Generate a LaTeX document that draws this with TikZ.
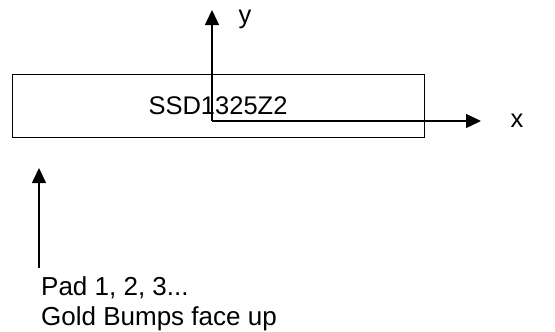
\documentclass[tikz,border=0pt]{standalone}
\usepackage{fontspec}
\setmainfont{Liberation Sans}
\usetikzlibrary{arrows.meta}
\tikzset{
    chip/.style={draw, line width=1pt, minimum width=412pt, minimum height=63pt, inner sep=0pt},
    axis/.style={line width=1.4pt, -{Triangle[length=15pt,width=14pt]}},
    lbl/.style={inner sep=0pt, font=\fontsize{25.5}{30}\selectfont}
}
\begin{document}
\begin{tikzpicture}[x=1pt, y=-1pt]
    \useasboundingbox (0, 0) rectangle (555, 332);
    \node[chip, lbl] (chip) at (218, 105.5) {SSD1325Z2};

    \coordinate (O) at (212, 121);
    \coordinate (ytip) at (212, 10);
    \coordinate (xtip) at (481, 121);
    \node[lbl] (ylab) at (245, 19) {y};
    \node[lbl] (xlab) at (517, 121) {x};

    \coordinate (padtip) at (39, 168);
    \coordinate (padfoot) at (39, 268);
    \node[lbl, font=\fontsize{26}{30}\selectfont, align=left, anchor=north west] (pad) at (41, 276) {Pad 1, 2, 3...\\Gold Bumps face up};

    \draw[axis] (O) -- (ytip);
    \draw[axis] (O) -- (xtip);
    \draw[axis] (padfoot) -- (padtip);
\end{tikzpicture}
\end{document}
